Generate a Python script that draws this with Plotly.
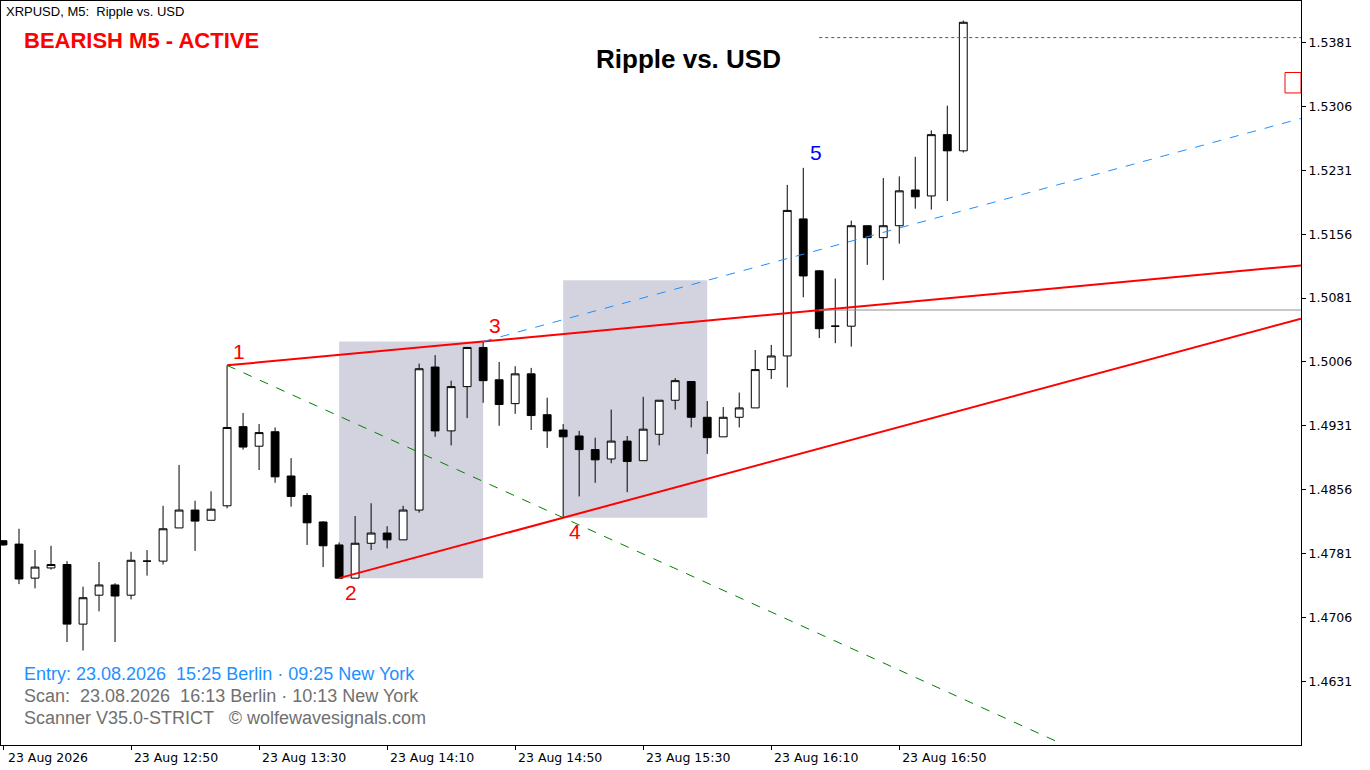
import pandas as pd
import plotly.graph_objects as go

# XRPUSD M5 candles, 23 Aug 2026 from 12:10
opens = [1.4796, 1.4792, 1.4752, 1.4764, 1.4768, 1.4698, 1.4732, 1.4744, 1.4732, 1.4772,
         1.4772, 1.4811, 1.4832, 1.4820, 1.4837, 1.4930, 1.4907, 1.4924, 1.4872, 1.4849,
         1.4818, 1.4791, 1.4752, 1.4793, 1.4805, 1.4797, 1.4832, 1.5000, 1.4925, 1.4977,
         1.5023, 1.4985, 1.4957, 1.4992, 1.4944, 1.4926, 1.4919, 1.4903, 1.4892, 1.4913,
         1.4890, 1.4921, 1.4961, 1.4983, 1.4941, 1.4918, 1.4941, 1.4952, 1.4997, 1.5013,
         1.5174, 1.5113, 1.5048, 1.5048, 1.5166, 1.5152, 1.5166, 1.5208, 1.5201, 1.5273,
         1.5254]
highs = [1.4796, 1.4810, 1.4785, 1.4790, 1.4772, 1.4742, 1.4771, 1.4746, 1.4783, 1.4785,
         1.4837, 1.4885, 1.4843, 1.4854, 1.5002, 1.4946, 1.4933, 1.4929, 1.4893, 1.4852,
         1.4819, 1.4794, 1.4825, 1.4840, 1.4813, 1.4837, 1.5004, 1.5014, 1.4984, 1.5023,
         1.5030, 1.5006, 1.5001, 1.4999, 1.4964, 1.4933, 1.4925, 1.4917, 1.4950, 1.4919,
         1.4965, 1.4961, 1.4987, 1.4983, 1.4960, 1.4953, 1.4970, 1.5020, 1.5026, 1.5214,
         1.5234, 1.5114, 1.5104, 1.5172, 1.5166, 1.5222, 1.5224, 1.5247, 1.5278, 1.5307,
         1.5407]
lows = [1.4790, 1.4745, 1.4740, 1.4762, 1.4677, 1.4667, 1.4713, 1.4677, 1.4727, 1.4755,
        1.4768, 1.4811, 1.4784, 1.4820, 1.4834, 1.4903, 1.4879, 1.4864, 1.4836, 1.4791,
        1.4765, 1.4752, 1.4752, 1.4785, 1.4787, 1.4797, 1.4829, 1.4918, 1.4908, 1.4940,
        1.4958, 1.4931, 1.4945, 1.4926, 1.4905, 1.4823, 1.4848, 1.4864, 1.4887, 1.4853,
        1.4890, 1.4908, 1.4950, 1.4929, 1.4898, 1.4918, 1.4929, 1.4952, 1.4986, 1.4976,
        1.5082, 1.5034, 1.5028, 1.5024, 1.5120, 1.5102, 1.5145, 1.5186, 1.5185, 1.5195,
        1.5252]
closes = [1.4791, 1.4751, 1.4765, 1.4768, 1.4698, 1.4729, 1.4744, 1.4731, 1.4773, 1.4772,
          1.4810, 1.4832, 1.4819, 1.4833, 1.4929, 1.4906, 1.4923, 1.4871, 1.4848, 1.4817,
          1.4790, 1.4752, 1.4793, 1.4805, 1.4797, 1.4832, 1.4998, 1.4925, 1.4977, 1.5023,
          1.4984, 1.4956, 1.4992, 1.4943, 1.4925, 1.4918, 1.4903, 1.4891, 1.4913, 1.4889,
          1.4927, 1.4961, 1.4984, 1.4941, 1.4917, 1.4941, 1.4952, 1.4997, 1.5013, 1.5184,
          1.5107, 1.5045, 1.5048, 1.5166, 1.5152, 1.5166, 1.5207, 1.5200, 1.5273, 1.5254,
          1.5405]

# wolfe wave points: candle index, price
wave_idx = [14, 21, 30, 35]
wave_px = [1.5002, 1.4752, 1.5030, 1.4823]
wave_lbl = ["1", "2", "3", "4"]

y_ticks = [1.5381, 1.5306, 1.5231, 1.5156, 1.5081, 1.5006, 1.4931, 1.4856, 1.4781, 1.4706, 1.4631]
x_tick_idx = [0, 8, 16, 24, 32, 40, 48, 56]
x_tick_txt = ["23 Aug 2026", "23 Aug 12:50", "23 Aug 13:30", "23 Aug 14:10",
              "23 Aug 14:50", "23 Aug 15:30", "23 Aug 16:10", "23 Aug 16:50"]

t0 = pd.Timestamp("2026-08-23 12:10")
step = pd.Timedelta(minutes=5)
times = [t0 + i * step for i in range(len(opens))]
def T(k):
    return t0 + k * step

x_end = 81.1
y_lo, y_hi = 1.4556, 1.5430

def extend(k1, p1, k2, p2, k_end):
    return p1 + (p2 - p1) * (k_end - k1) / (k2 - k1)

fig = go.Figure()

# zones
for a, b, lo, hi in [(21, 30, 1.4752, 1.5030), (35, 44, 1.4823, 1.5102)]:
    fig.add_shape(type="rect", x0=T(a), x1=T(b), y0=lo, y1=hi,
                  fillcolor="#D3D3E0", line_width=0, layer="below")

fig.add_trace(go.Candlestick(
    x=times, open=opens, high=highs, low=lows, close=closes,
    increasing=dict(line=dict(color="black", width=1), fillcolor="white"),
    decreasing=dict(line=dict(color="black", width=1), fillcolor="black"),
    whiskerwidth=0, showlegend=False, hoverinfo="skip"))

# 1-3 line and 2-4 line
p13 = extend(14, 1.5002, 30, 1.5030, x_end)
p24 = extend(21, 1.4752, 35, 1.4823, x_end)
fig.add_trace(go.Scatter(x=[T(14), T(x_end)], y=[1.5002, p13], mode="lines",
                         line=dict(color="#FF0000", width=2), hoverinfo="skip", showlegend=False))
fig.add_trace(go.Scatter(x=[T(21), T(x_end)], y=[1.4752, p24], mode="lines",
                         line=dict(color="#FF0000", width=2), hoverinfo="skip", showlegend=False))
# target line from 3, parallel to 2-4
fig.add_trace(go.Scatter(x=[T(30), T(x_end)], y=[1.5030, 1.5292], mode="lines",
                         line=dict(color="#1E90FF", width=1, dash="dash"), hoverinfo="skip", showlegend=False))
# 1-4 line
k14_end = 66
fig.add_trace(go.Scatter(x=[T(14), T(k14_end)], y=[1.5002, extend(14, 1.5002, 35, 1.4823, k14_end)],
                         mode="lines", line=dict(color="#008000", width=1, dash="dash"),
                         hoverinfo="skip", showlegend=False))
# entry level and dotted top level
fig.add_trace(go.Scatter(x=[T(51), T(x_end)], y=[1.5067, 1.5067], mode="lines",
                         line=dict(color="#909090", width=1), hoverinfo="skip", showlegend=False))
fig.add_trace(go.Scatter(x=[T(51), T(x_end)], y=[1.5387, 1.5387], mode="lines",
                         line=dict(color="#804040", width=1, dash="dot"), hoverinfo="skip", showlegend=False))
fig.add_shape(type="rect", x0=T(80.1), x1=T(x_end), y0=1.5322, y1=1.5346,
              line=dict(color="#FF0000", width=1), fillcolor="rgba(0,0,0,0)")

for k, p, lbl, dy in zip(wave_idx, wave_px, wave_lbl, [14, -14, 16, -14]):
    fig.add_annotation(x=T(k + 0.75), y=p, text=lbl, showarrow=False, yshift=dy,
                       font=dict(family="Arial, Liberation Sans", size=21, color="#FF0000"))
fig.add_annotation(x=T(50.8), y=1.5234, text="5", showarrow=False, yshift=15,
                   font=dict(family="Arial, Liberation Sans", size=21, color="#0000FF"))

# texts
fig.add_annotation(xref="paper", yref="paper", x=0.002, y=0.999, text="XRPUSD, M5:  Ripple vs. USD",
                   showarrow=False, xanchor="left", yanchor="top",
                   font=dict(family="Arial, Liberation Sans", size=13, color="black"))
fig.add_annotation(xref="paper", yref="paper", x=0.016, y=0.967, text="<b>BEARISH M5 - ACTIVE</b>",
                   showarrow=False, xanchor="left", yanchor="top",
                   font=dict(family="Arial, Liberation Sans", size=22, color="#FF0000"))
fig.add_annotation(xref="paper", yref="paper", x=0.529, y=0.945, text="<b>Ripple vs. USD</b>",
                   showarrow=False, xanchor="center", yanchor="top",
                   font=dict(family="Arial, Liberation Sans", size=26, color="black"))
for i, (txt, col) in enumerate([
        ("Entry: 23.08.2026  15:25 Berlin · 09:25 New York", "#1E90FF"),
        ("Scan:  23.08.2026  16:13 Berlin · 10:13 New York", "#707070"),
        ("Scanner V35.0-STRICT   © wolfewavesignals.com", "#707070")]):
    fig.add_annotation(xref="paper", yref="paper", x=0.016, y=0.095 - i * 0.0296, text=txt,
                       showarrow=False, xanchor="left", yanchor="middle",
                       font=dict(family="Arial, Liberation Sans", size=18, color=col))

fig.update_layout(
    width=1370, height=770, paper_bgcolor="white", plot_bgcolor="white",
    margin=dict(l=1, r=69, t=1, b=25),
    xaxis=dict(type="date", range=[T(-0.125), T(x_end)], rangeslider=dict(visible=False),
               tickvals=[T(k) for k in x_tick_idx], ticktext=x_tick_txt,
               ticks="outside", ticklen=4, tickcolor="black", ticklabelshift=45,
               ticklabelstandoff=-3,
               showgrid=False, showline=True, linecolor="black", mirror=True,
               tickfont=dict(family="DejaVu Sans", size=12.5, color="black")),
    yaxis=dict(side="right", range=[y_lo, y_hi], tickvals=y_ticks,
               ticktext=[f"{v:.4f}" for v in y_ticks],
               ticks="outside", ticklen=4, tickcolor="black",
               showgrid=False, showline=True, linecolor="black", mirror=True, zeroline=False,
               tickfont=dict(family="DejaVu Sans", size=12.5, color="black")),
)

fig.write_html("out.html", config={"displayModeBar": False},
               post_script="document.body.style.margin='0';")
